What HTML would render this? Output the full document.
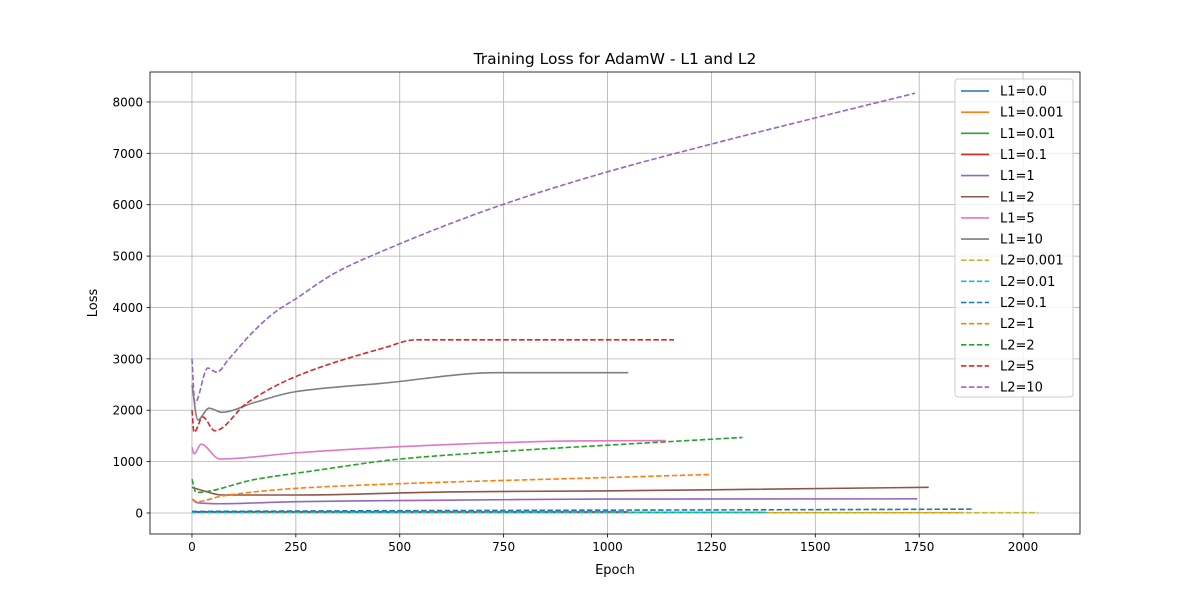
<!DOCTYPE html>
<html><head><meta charset="utf-8"><style>
body{margin:0;background:#fff;font-family:"Liberation Sans","DejaVu Sans",sans-serif;}
svg text{font-family:"DejaVu Sans","Liberation Sans",sans-serif;}
</style></head><body>
<svg id="chart" width="1200" height="600" xmlns="http://www.w3.org/2000/svg">
<rect width="1200" height="600" fill="#fff"/>
<text x="615" y="64" text-anchor="middle" font-size="15.5">Training Loss for AdamW - L1 and L2</text>
<g id="grid"></g><g id="series"></g><g id="axes"></g><g id="legend"></g>
<text x="615" y="574" text-anchor="middle" font-size="13">Epoch</text>
<text transform="translate(97,303) rotate(-90)" text-anchor="middle" font-size="13">Loss</text>
</svg>
<script>
const xTicks=[0,250,500,750,1000,1250,1500,1750,2000];
const yTicks=[0,1000,2000,3000,4000,5000,6000,7000,8000];
const seriesNames=["L1=0.0","L1=0.001","L1=0.01","L1=0.1","L1=1","L1=2","L1=5","L1=10","L2=0.001","L2=0.01","L2=0.1","L2=1","L2=2","L2=5","L2=10"];
const seriesColors=["#1f77b4","#ff7f0e","#2ca02c","#d62728","#9467bd","#8c564b","#e377c2","#7f7f7f","#bcbd22","#17becf","#1f77b4","#ff7f0e","#2ca02c","#d62728","#9467bd"];
const seriesDashed=[0,0,0,0,0,0,0,0,1,1,1,1,1,1,1];
const epochs0=[0,1000]; const loss0=[15,15];
const epochs1=[0,1855]; const loss1=[15,10];
const epochs2=[0,1383]; const loss2=[15,12];
const epochs3=[0,1050]; const loss3=[20,20];
const epochs4=[0,12,67,252,620,982,1745]; const loss4=[270,200,180,220,250,270,275];
const epochs5=[0,20,72,252,620,982,1773]; const loss5=[500,450,350,350,410,430,500];
const epochs6=[0,5,22,67,250,500,750,900,1140]; const loss6=[1280,1150,1340,1050,1170,1290,1370,1400,1410];
const epochs7=[0,14,41,72,150,248,465,730,1050]; const loss7=[2490,1810,2040,1960,2150,2360,2530,2730,2730];
const epochs8=[0,2036]; const loss8=[5,5];
const epochs9=[0,1383]; const loss9=[10,12];
const epochs10=[0,500,1000,1500,1880]; const loss10=[30,45,55,65,75];
const epochs11=[0,12,72,252,500,1000,1250]; const loss11=[270,220,330,480,570,690,750];
const epochs12=[0,10,150,300,500,750,1000,1325]; const loss12=[660,400,650,830,1050,1200,1320,1470];
const epochs13=[0,5,26,55,132,248,465,537,1160]; const loss13=[2000,1570,1870,1600,2140,2650,3220,3370,3370];
const epochs14=[0,7,38,60,87,144,200,248,344,465,750,1000,1250,1500,1740]; const loss14=[3000,2140,2820,2740,2980,3500,3910,4160,4670,5120,6010,6640,7180,7690,8170];
const allEpochs=[epochs0,epochs1,epochs2,epochs3,epochs4,epochs5,epochs6,epochs7,epochs8,epochs9,epochs10,epochs11,epochs12,epochs13,epochs14];
const allLoss=[loss0,loss1,loss2,loss3,loss4,loss5,loss6,loss7,loss8,loss9,loss10,loss11,loss12,loss13,loss14];

const L=150,R=1080,T=72,B=534;
const xmin=-101,xmax=2137,ymin=-409,ymax=8583;
const X=v=>L+(v-xmin)/(xmax-xmin)*(R-L);
const Y=v=>B-(v-ymin)/(ymax-ymin)*(B-T);
const NS="http://www.w3.org/2000/svg";
function mk(tag,attrs,parent){const e=document.createElementNS(NS,tag);for(const k in attrs)e.setAttribute(k,attrs[k]);parent.appendChild(e);return e;}
function monoPath(p){
  const n=p.length;
  let d='M'+p[0][0].toFixed(2)+','+p[0][1].toFixed(2);
  if(n<3){for(let i=1;i<n;i++)d+=' L'+p[i][0].toFixed(2)+','+p[i][1].toFixed(2);return d;}
  const dx=[],s=[];
  for(let i=0;i<n-1;i++){dx[i]=p[i+1][0]-p[i][0];s[i]=(p[i+1][1]-p[i][1])/dx[i];}
  const m=[s[0]];
  for(let i=1;i<n-1;i++){
    if(s[i-1]*s[i]<=0)m[i]=0;
    else{const w1=2*dx[i]+dx[i-1],w2=dx[i]+2*dx[i-1];m[i]=(w1+w2)/(w1/s[i-1]+w2/s[i]);}
  }
  m[n-1]=s[n-2];
  for(let i=0;i<n-1;i++){
    const h=dx[i]/3;
    d+=' C'+(p[i][0]+h).toFixed(2)+','+(p[i][1]+m[i]*h).toFixed(2)+' '+(p[i+1][0]-h).toFixed(2)+','+(p[i+1][1]-m[i+1]*h).toFixed(2)+' '+p[i+1][0].toFixed(2)+','+p[i+1][1].toFixed(2);
  }
  return d;
}
const grid=document.getElementById('grid'),axes=document.getElementById('axes'),ser=document.getElementById('series'),leg=document.getElementById('legend');
xTicks.forEach(t=>{
  const g=mk('line',{x1:X(t),x2:X(t),y1:T,y2:B,stroke:'#b0b0b0','stroke-width':0.8},grid);
  
  
  mk('line',{x1:X(t),x2:X(t),y1:B,y2:B+3.5,stroke:'#000','stroke-width':0.8},axes);
  const tx=mk('text',{x:X(t),y:B+17,'text-anchor':'middle','font-size':12},axes);tx.textContent=t;
  
  
});
yTicks.forEach(t=>{
  const g=mk('line',{x1:L,x2:R,y1:Y(t),y2:Y(t),stroke:'#b0b0b0','stroke-width':0.8},grid);
  
  
  mk('line',{x1:L-3.5,x2:L,y1:Y(t),y2:Y(t),stroke:'#000','stroke-width':0.8},axes);
  const tx=mk('text',{x:L-7,y:Y(t)+4.5,'text-anchor':'end','font-size':12},axes);tx.textContent=t;
  
  
});
const frame=mk('rect',{x:L,y:T,width:R-L,height:B-T,fill:'none',stroke:'#000','stroke-width':0.8},axes);


seriesNames.forEach((n,i)=>{
  const pts=allEpochs[i].map((e,j)=>[X(e),Y(allLoss[i][j])]);
  const p=mk('path',{d:monoPath(pts),fill:'none',stroke:seriesColors[i],'stroke-width':1.6,'stroke-linejoin':'round'},ser);
  if(seriesDashed[i])p.setAttribute('stroke-dasharray','5.5,2.4');
  
  
});
const lb=mk('rect',{x:955,y:79,width:118,height:318,rx:3,fill:'#fff','fill-opacity':0.8,stroke:'#ccc'},leg);


seriesNames.forEach((n,i)=>{
  const y=91+i*21.15;
  const ln=mk('line',{x1:961,x2:989,y1:y,y2:y,stroke:seriesColors[i],'stroke-width':1.6},leg);
  if(seriesDashed[i])ln.setAttribute('stroke-dasharray','5.5,2.4');
  
  
  const tx=mk('text',{x:1000,y:y+4.5,'font-size':13},leg);tx.textContent=n;
  
  
});
</script>
</body></html>
